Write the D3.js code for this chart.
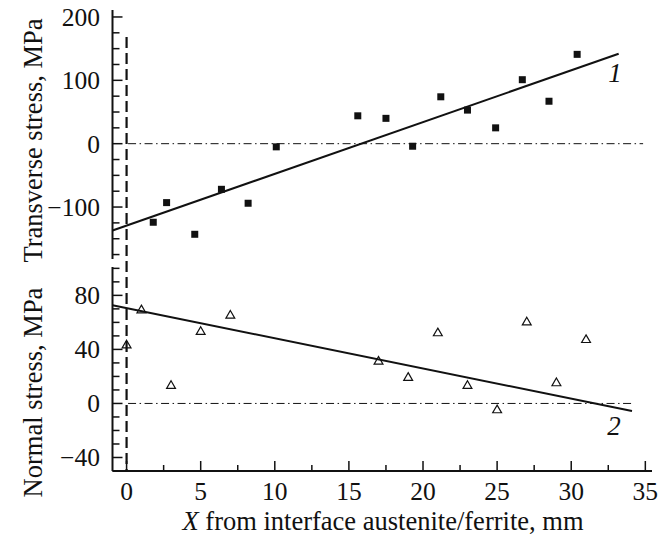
<!DOCTYPE html>
<html><head><meta charset="utf-8">
<script src="https://cdn.jsdelivr.net/npm/d3@7"></script>
<style>
body{margin:0;background:#fff;}
</style></head>
<body><svg id="c" width="665" height="538" font-family="Liberation Serif, Times New Roman, DejaVu Serif, serif"></svg>
<script>
// Data
const transX = [1.8, 2.7, 4.6, 6.4, 8.2, 10.1, 15.6, 17.5, 19.3, 21.2, 23.0, 24.9, 26.7, 28.5, 30.4];
const transY = [-124, -93, -143, -72, -94, -5, 44, 40, -4, 74, 53, 25, 101, 67, 141];
const normX = [0, 1, 3, 5, 7, 17, 19, 21, 23, 25, 27, 29, 31];
const normY = [43, 69, 13, 53, 65, 31, 19, 52, 13, -5, 60, 15, 47];
const fit1 = {x0: -0.95, x1: 33.2, a: -129.2, b: 8.166};
const fit2 = {x0: -0.95, x1: 34.1, a: 70.6, b: -2.236};
const xTicks = [0, 5, 10, 15, 20, 25, 30, 35];
const topTicks = [-100, 0, 100, 200];
const botTicks = [-40, 0, 40, 80];

const svg = d3.select("#c");
const x = d3.scaleLinear().domain([-0.95, 35.45]).range([112.5, 652]);
const y1 = d3.scaleLinear().domain([-182, 211]).range([259, 10]);
const y2 = d3.scaleLinear().domain([-50, 101]).range([471, 267]);
const ink = "#111";
const FS = 25.5;   // tick labels
const TS = 26.5;   // axis titles

function yAxis(y, majors, minorStep, fmt){
  const g = svg.append("g");
  const [d0, d1] = y.domain();
  g.append("line").attr("x1", x.range()[0]).attr("x2", x.range()[0])
    .attr("y1", y.range()[0]).attr("y2", y.range()[1]).attr("stroke", ink).attr("stroke-width", 2);
  const minors = d3.range(Math.ceil(d0/minorStep)*minorStep, d1+0.001, minorStep);
  minors.forEach(v => {
    const maj = majors.includes(v);
    g.append("line").attr("x1", x.range()[0]).attr("x2", x.range()[0] + (maj ? 10 : 7))
      .attr("y1", y(v)).attr("y2", y(v)).attr("stroke", ink).attr("stroke-width", 1.5);
  });
  majors.forEach(v => {
    g.append("text").attr("x", 100).attr("y", y(v) + 9).attr("text-anchor", "end")
      .attr("font-size", FS).attr("fill", ink).text(fmt(v));
  });
}
const fmt = v => v < 0 ? "\u2212" + Math.abs(v) : String(v);
yAxis(y1, topTicks, 25, fmt);
yAxis(y2, botTicks, 10, fmt);

// x axis
const gx = svg.append("g");
gx.append("line").attr("x1", x.range()[0]).attr("x2", x.range()[1])
  .attr("y1", y2.range()[0]).attr("y2", y2.range()[0]).attr("stroke", ink).attr("stroke-width", 2);
d3.range(0, 35.01, 2.5).forEach(v => {
  const maj = xTicks.includes(v);
  gx.append("line").attr("x1", x(v)).attr("x2", x(v))
    .attr("y1", y2.range()[0]).attr("y2", y2.range()[0] - (maj ? 10 : 6)).attr("stroke", ink).attr("stroke-width", 1.5);
});
xTicks.forEach(v => {
  gx.append("text").attr("x", x(v)).attr("y", 500).attr("text-anchor", "middle").attr("font-size", FS).attr("fill", ink).text(v);
});

// zero lines
svg.append("line").attr("x1", x(0.1)).attr("x2", x(34.85)).attr("y1", y1(0)).attr("y2", y1(0))
  .attr("stroke", ink).attr("stroke-width", 1).attr("stroke-dasharray", "8,3.5,1.5,3.5");
svg.append("line").attr("x1", x(0.1)).attr("x2", x(34.2)).attr("y1", y2(0)).attr("y2", y2(0))
  .attr("stroke", ink).attr("stroke-width", 1).attr("stroke-dasharray", "8,3.5,1.5,3.5");

// dashed interface line
svg.append("line").attr("x1", x(0)).attr("x2", x(0)).attr("y1", 37).attr("y2", y2.range()[0])
  .attr("stroke", ink).attr("stroke-width", 2.2).attr("stroke-dasharray", "11,5");

// fits
svg.append("line").attr("x1", x(fit1.x0)).attr("x2", x(fit1.x1))
  .attr("y1", y1(fit1.a + fit1.b*fit1.x0)).attr("y2", y1(fit1.a + fit1.b*fit1.x1))
  .attr("stroke", ink).attr("stroke-width", 2);
svg.append("line").attr("x1", x(fit2.x0)).attr("x2", x(fit2.x1))
  .attr("y1", y2(fit2.a + fit2.b*fit2.x0)).attr("y2", y2(fit2.a + fit2.b*fit2.x1))
  .attr("stroke", ink).attr("stroke-width", 2);

// points
svg.append("g").selectAll("rect").data(transX).join("rect")
  .attr("x", (d) => x(d) - 3.5).attr("y", (d, i) => y1(transY[i]) - 3.5)
  .attr("width", 7).attr("height", 7).attr("fill", ink);
const tri = d3.symbol().type(d3.symbolTriangle).size(34);
svg.append("g").selectAll("path").data(normX).join("path")
  .attr("d", tri)
  .attr("transform", (d, i) => `translate(${x(d)},${y2(normY[i])})`)
  .attr("fill", "none").attr("stroke", ink).attr("stroke-width", 1.2);

// curve labels
svg.append("text").attr("x", 615).attr("y", 82).attr("font-size", 27).attr("font-style", "italic").attr("text-anchor", "middle").attr("fill", ink).text("1");
svg.append("text").attr("x", 614).attr("y", 435).attr("font-size", 27).attr("font-style", "italic").attr("text-anchor", "middle").attr("fill", ink).text("2");

// axis titles
svg.append("text").attr("transform", "translate(42,140.5) rotate(-90)").attr("text-anchor", "middle")
  .attr("font-size", TS).attr("fill", ink).text("Transverse stress, MPa");
svg.append("text").attr("transform", "translate(42,392.5) rotate(-90)").attr("text-anchor", "middle")
  .attr("font-size", TS).attr("fill", ink).text("Normal stress, MPa");
const xt = svg.append("text").attr("x", 383).attr("y", 530).attr("text-anchor", "middle").attr("font-size", TS).attr("fill", ink);
xt.append("tspan").attr("font-style", "italic").text("X");
xt.append("tspan").text(" from interface austenite/ferrite, mm");
</script></body></html>
